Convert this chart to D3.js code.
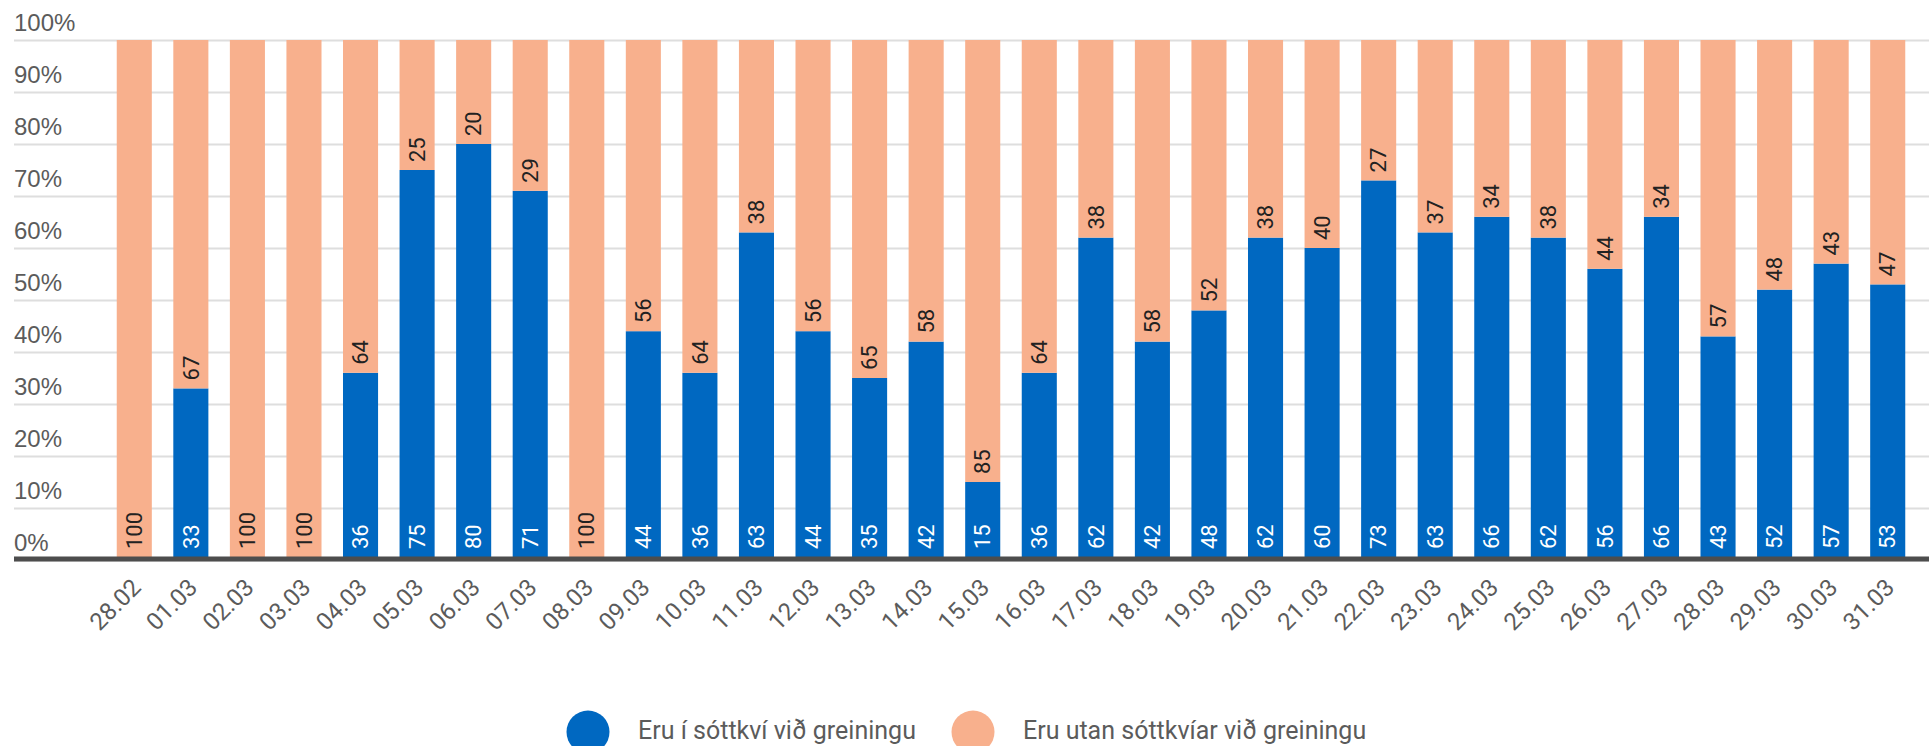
<!DOCTYPE html>
<html>
<head>
<meta charset="utf-8">
<script src="https://cdn.jsdelivr.net/npm/d3@7"></script>
<style>
  html, body { margin: 0; padding: 0; background: #fff; }
  svg { display: block; font-family: Roboto, "Open Sans", sans-serif; }
</style>
</head>
<body>
<div id="chart"></div>
<script>
// -------------------- Data --------------------

const dates = ["28.02", "01.03", "02.03", "03.03", "04.03", "05.03", "06.03", "07.03",
    "08.03", "09.03", "10.03", "11.03", "12.03", "13.03", "14.03", "15.03",
    "16.03", "17.03", "18.03", "19.03", "20.03", "21.03", "22.03", "23.03",
    "24.03", "25.03", "26.03", "27.03", "28.03", "29.03", "30.03", "31.03"];

// Eru í sóttkví við greiningu (%)
const inQuarantine = [0, 33, 0, 0, 36, 75, 80, 71, 0, 44, 36, 63, 44, 35, 42, 15,
    36, 62, 42, 48, 62, 60, 73, 63, 66, 62, 56, 66, 43, 52, 57, 53];

// Eru utan sóttkvíar við greiningu (%)
const outsideQuarantine = [100, 67, 100, 100, 64, 25, 20, 29, 100, 56, 64, 38, 56, 65, 58, 85,
    64, 38, 58, 52, 38, 40, 27, 37, 34, 38, 44, 34, 57, 48, 43, 47];

const seriesNames = ["Eru í sóttkví við greiningu", "Eru utan sóttkvíar við greiningu"];
const yTicks = [0, 10, 20, 30, 40, 50, 60, 70, 80, 90, 100];

// -------------------- Setup --------------------

const WIDTH = 1929;
const HEIGHT = 746;
const BLUE = "#0068c1";
const ORANGE = "#f8b08d";
const TEXT_GREY = "#5b5b5b";

const rows = dates.map((d, i) => ({ date: d, inside: inQuarantine[i], outside: outsideQuarantine[i] }));

const svg = d3.select("#chart")
    .append("svg")
    .attr("width", WIDTH)
    .attr("height", HEIGHT)
    .attr("viewBox", [0, 0, WIDTH, HEIGHT]);

const x = d3.scaleBand()
    .domain(dates)
    .range([106, 1916])
    .paddingInner(0.38)
    .paddingOuter(0.19);

const y = d3.scaleLinear()
    .domain([0, 100])
    .range([560, 40])
    .clamp(true);

const stack = d3.stack().keys(["inside", "outside"]);
const stacked = stack(rows);
const colors = [BLUE, ORANGE];

// ***** GRID + Y LABELS *****
const yAxis = svg.append("g")
    .attr("transform", "translate(14,0)")
    .call(d3.axisRight(y)
        .tickValues(yTicks)
        .tickSize(WIDTH - 14)
        .tickFormat(d => d + "%"));

yAxis.select(".domain").remove();
yAxis.selectAll(".tick line")
    .attr("stroke", "#dedede")
    .attr("stroke-width", 2);
yAxis.selectAll(".tick text")
    .attr("x", 0)
    .attr("dy", -10)
    .attr("text-anchor", "start")
    .attr("fill", TEXT_GREY)
    .attr("font-size", 24);

// ***** BARS *****
const barGroups = svg.append("g")
    .selectAll("g")
    .data(stacked)
    .join("g")
    .attr("fill", (d, i) => colors[i]);

barGroups.selectAll("rect")
    .data(d => d)
    .join("rect")
    .attr("x", d => x(d.data.date))
    .attr("y", d => y(d[1]))
    .attr("width", x.bandwidth())
    .attr("height", d => y(d[0]) - y(d[1]));

// ***** VALUE LABELS *****
const labels = svg.append("g")
    .attr("font-size", 22);

// blue values, white at the bottom of each bar
labels.selectAll("text.inside")
    .data(rows.filter(d => d.inside > 0))
    .join("text")
    .attr("class", "inside")
    .attr("transform", d => `translate(${x(d.date) + x.bandwidth() / 2},${y(0) - 11}) rotate(-90)`)
    .attr("dy", "0.35em")
    .attr("fill", "#fff")
    .text(d => d.inside);

// orange values, dark, just above the blue part
labels.selectAll("text.outside")
    .data(rows)
    .join("text")
    .attr("class", "outside")
    .attr("transform", d => {
        const base = d.inside > 0 ? y(d.inside) - 8 : y(0) - 11;
        return `translate(${x(d.date) + x.bandwidth() / 2},${base}) rotate(-90)`;
    })
    .attr("dy", "0.35em")
    .attr("fill", "#222")
    .text(d => d.outside);

// ***** X AXIS *****
svg.append("line")
    .attr("x1", 14)
    .attr("x2", WIDTH)
    .attr("y1", y(0) - 1)
    .attr("y2", y(0) - 1)
    .attr("stroke", "#4d4d4d")
    .attr("stroke-width", 5);

const xLabels = svg.append("g")
    .attr("font-size", 24)
    .attr("fill", TEXT_GREY);

xLabels.selectAll("text")
    .data(dates)
    .join("text")
    .attr("transform", d => `translate(${x(d) + x.bandwidth() / 2 + 8},${y(0) + 29}) rotate(-45)`)
    .attr("text-anchor", "end")
    .text(d => d);

// ***** LEGEND *****
const legendX = [588, 973];
const legend = svg.append("g")
    .selectAll("g")
    .data(seriesNames)
    .join("g")
    .attr("transform", (d, i) => `translate(${legendX[i]},732)`);

legend.append("circle")
    .attr("r", 21.5)
    .attr("fill", (d, i) => colors[i]);

legend.append("text")
    .attr("x", 50)
    .attr("y", 7)
    .attr("font-size", 25)
    .attr("fill", TEXT_GREY)
    .text(d => d);
</script>
</body>
</html>
